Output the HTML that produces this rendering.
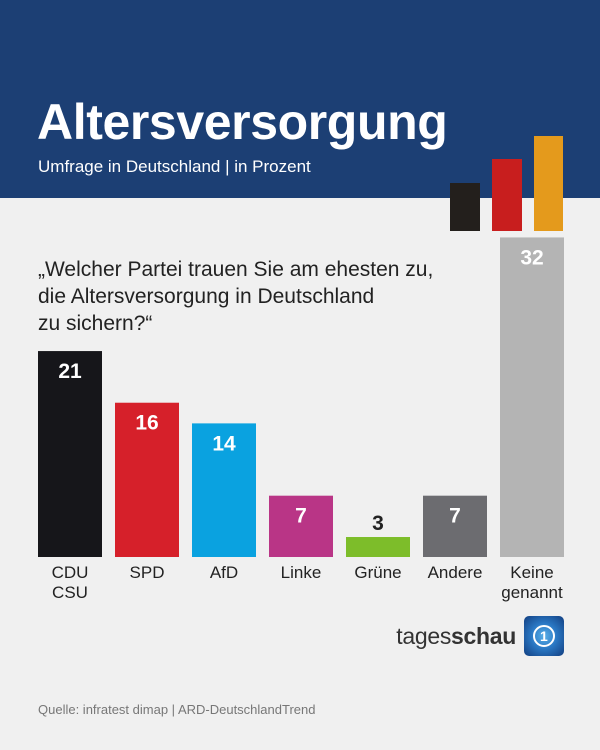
<!DOCTYPE html>
<html><head><meta charset="utf-8"><style>
body{margin:0;width:600px;height:750px;background:#f0f0f0;font-family:"Liberation Sans",sans-serif;position:relative;overflow:hidden}
.abs{position:absolute}
</style></head><body>
<div class="abs" style="left:0;top:0;width:600px;height:198px;background:#1c3f74"></div>
<div class="abs" style="left:37px;top:93px;font-size:50px;font-weight:bold;color:#fff;letter-spacing:-0.4px">Altersversorgung</div>
<div class="abs" style="left:38px;top:157px;font-size:17px;color:#fff">Umfrage in Deutschland | in Prozent</div>
<div class="abs" style="left:450px;top:183px;width:30px;height:48px;background:#231f1c"></div>
<div class="abs" style="left:492px;top:159px;width:30px;height:72px;background:#c81e1e"></div>
<div class="abs" style="left:534px;top:136px;width:29px;height:95px;background:#e49a1c"></div>
<div class="abs" style="left:38px;top:256px;font-size:21px;line-height:27px;color:#222">„Welcher Partei trauen Sie am ehesten zu,<br>die Altersversorgung in Deutschland<br>zu sichern?“</div>
<svg class="abs" style="left:0;top:0" width="600" height="750" id="chart"></svg>
<div class="abs" style="right:84px;top:623px;font-size:23px;color:#333;letter-spacing:-0.3px">tages<b>schau</b></div>
<div class="abs" style="left:524px;top:616px;width:40px;height:40px;border-radius:5px;background:radial-gradient(circle at 50% 50%,#5ab0e8 0,#2a78c4 45%,#123e80 100%)"><div style="position:absolute;left:9px;top:9px;width:18px;height:18px;border:2px solid #fff;border-radius:50%"></div><div style="position:absolute;left:16px;top:12px;font:bold 14px 'Liberation Sans';color:#fff">1</div></div>
<div class="abs" style="left:38px;top:702px;font-size:13px;color:#777">Quelle: infratest dimap | ARD-DeutschlandTrend</div>
<script>
const categories=["CDU\nCSU","SPD","AfD","Linke","Grüne","Andere","Keine\ngenannt"];
const values=[21,16,14,7,3,7,32];
const colors=["#16161a","#d6202a","#0aa2e0","#b93586","#7dbd2a","#6c6c70","#b4b4b4"];
const svg=document.getElementById('chart');
const NS="http://www.w3.org/2000/svg";
const base=557,scale=10.33,offset=11,x0=38,step=77,bw=64;
const y=v=>base-(v*scale-offset);
const x=i=>x0+i*step;
values.forEach((v,i)=>{
 const r=document.createElementNS(NS,'rect');
 r.setAttribute('x',x(i));r.setAttribute('y',y(v));r.setAttribute('width',bw);r.setAttribute('height',base-y(v));r.setAttribute('fill',colors[i]);
 
 
 svg.appendChild(r);
 const t=document.createElementNS(NS,'text');
 const inside=(base-y(v))>40;
 t.setAttribute('x',x(i)+bw/2);t.setAttribute('y',inside?y(v)+27:y(v)-7);
 t.setAttribute('text-anchor','middle');t.setAttribute('font-size','21');t.setAttribute('font-weight','bold');
 t.setAttribute('fill',inside?'#fff':'#222');t.setAttribute('font-family','Liberation Sans');
 t.textContent=v;
 
 
 svg.appendChild(t);
 categories[i].split('\n').forEach((line,j)=>{
  const l=document.createElementNS(NS,'text');
  l.setAttribute('x',x(i)+bw/2);l.setAttribute('y',578+j*20);
  l.setAttribute('text-anchor','middle');l.setAttribute('font-size','17');l.setAttribute('fill','#222');l.setAttribute('font-family','Liberation Sans');
  l.textContent=line;
  
  
  svg.appendChild(l);
 });
});
</script>
</body></html>
